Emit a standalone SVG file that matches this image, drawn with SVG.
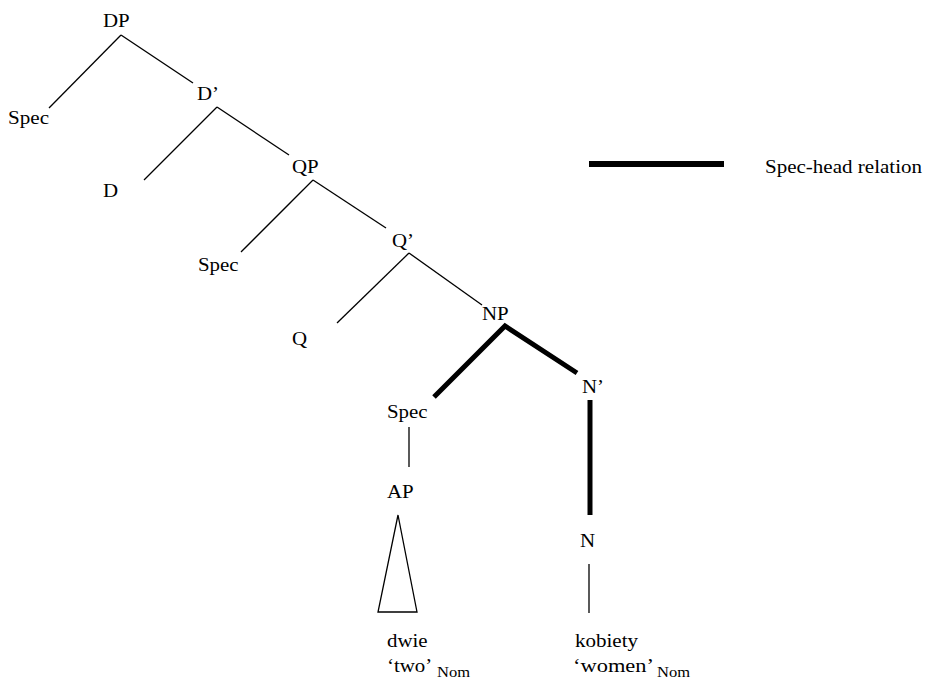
<svg xmlns="http://www.w3.org/2000/svg" width="926" height="681" viewBox="0 0 926 681">
  <style>
    text { font-family: "Liberation Serif", "Times New Roman", serif; font-size: 18px; fill: #000; }
    text.sub { font-size: 14px; }
    .branch { stroke: #000; stroke-width: 1.3; fill: none; stroke-linecap: butt; }
    .spechead { stroke: #000; stroke-width: 5; fill: none; stroke-linecap: butt; }
  </style>
  <rect width="926" height="681" fill="#fff"/>

  <!-- tree branches -->
  <g id="connectors">
    <line class="branch" x1="121" y1="35" x2="49" y2="108"/>
    <line class="branch" x1="121" y1="35" x2="193" y2="83"/>
    <line class="branch" x1="217" y1="107" x2="144" y2="180"/>
    <line class="branch" x1="217" y1="107" x2="289" y2="155"/>
    <line class="branch" x1="313" y1="180" x2="241" y2="252"/>
    <line class="branch" x1="313" y1="180" x2="386" y2="228"/>
    <line class="branch" x1="409" y1="253" x2="337" y2="323"/>
    <line class="branch" x1="409" y1="253" x2="482" y2="305"/>
    <polyline class="spechead" points="434,397 505,326 577,373"/>
    <line class="branch" x1="409" y1="427" x2="409" y2="467"/>
    <line class="spechead" x1="590" y1="400" x2="590" y2="515"/>
    <line class="branch" x1="589" y1="564" x2="589" y2="613"/>
    <polygon class="branch" points="398,515 378,612 417,612"/>
  </g>

  <!-- node labels -->
  <g id="node-dp"><text x="103" y="27" textLength="26.7" lengthAdjust="spacingAndGlyphs">DP</text></g>
  <g id="node-spec-dp"><text x="8" y="124" textLength="41" lengthAdjust="spacingAndGlyphs">Spec</text></g>
  <g id="node-dbar"><text x="197" y="100" textLength="22" lengthAdjust="spacingAndGlyphs">D’</text></g>
  <g id="node-d"><text x="103" y="197" textLength="15.1" lengthAdjust="spacingAndGlyphs">D</text></g>
  <g id="node-qp"><text x="292" y="173" textLength="26.7" lengthAdjust="spacingAndGlyphs">QP</text></g>
  <g id="node-spec-qp"><text x="198" y="271" textLength="40.6" lengthAdjust="spacingAndGlyphs">Spec</text></g>
  <g id="node-qbar"><text x="392" y="247" textLength="22" lengthAdjust="spacingAndGlyphs">Q’</text></g>
  <g id="node-q"><text x="292" y="345" textLength="15.1" lengthAdjust="spacingAndGlyphs">Q</text></g>
  <g id="node-np"><text x="482" y="320" textLength="26.7" lengthAdjust="spacingAndGlyphs">NP</text></g>
  <g id="node-spec-np"><text x="387" y="418" textLength="40.6" lengthAdjust="spacingAndGlyphs">Spec</text></g>
  <g id="node-nbar"><text x="582" y="393" textLength="22" lengthAdjust="spacingAndGlyphs">N’</text></g>
  <g id="node-ap"><text x="387" y="498" textLength="26.7" lengthAdjust="spacingAndGlyphs">AP</text></g>
  <g id="node-n"><text x="580" y="547" textLength="15.1" lengthAdjust="spacingAndGlyphs">N</text></g>

  <!-- terminals with glosses -->
  <g id="word-dwie">
    <text x="387" y="647" textLength="40.6" lengthAdjust="spacingAndGlyphs">dwie</text>
    <text x="387" y="672" textLength="45.3" lengthAdjust="spacingAndGlyphs">‘two’</text>
    <text class="sub" x="437" y="677" textLength="33" lengthAdjust="spacingAndGlyphs">Nom</text>
  </g>
  <g id="word-kobiety">
    <text x="575" y="647" textLength="63" lengthAdjust="spacingAndGlyphs">kobiety</text>
    <text x="573" y="672" textLength="81" lengthAdjust="spacingAndGlyphs">‘women’</text>
    <text class="sub" x="657" y="677" textLength="33" lengthAdjust="spacingAndGlyphs">Nom</text>
  </g>

  <!-- legend -->
  <g id="legend">
    <line x1="589" y1="164" x2="724" y2="164" stroke="#000" stroke-width="6"/>
    <text x="765" y="173" textLength="157" lengthAdjust="spacingAndGlyphs">Spec-head relation</text>
  </g>
</svg>
